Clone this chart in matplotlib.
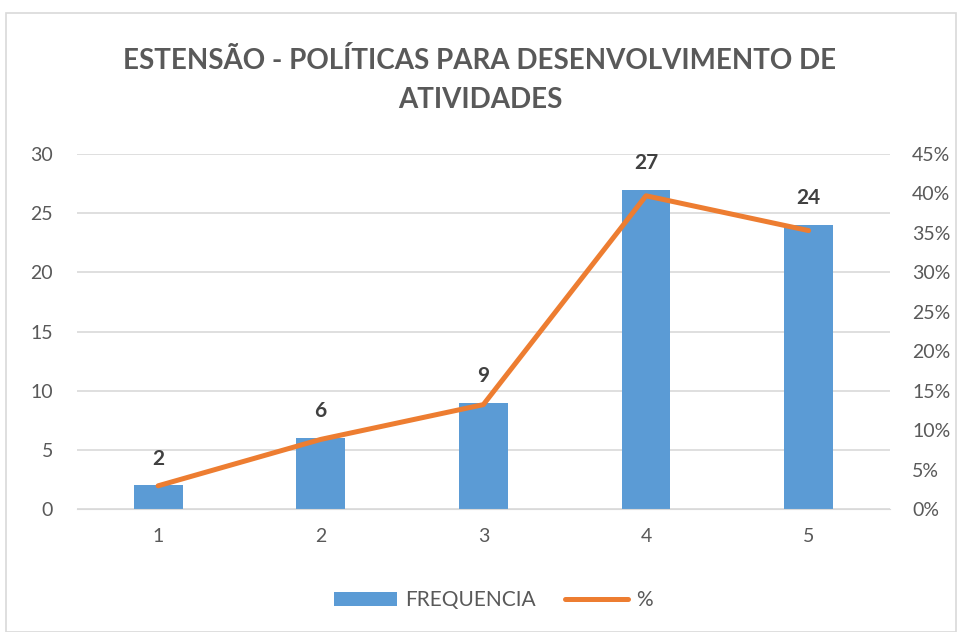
import matplotlib.pyplot as plt
from matplotlib.patches import Rectangle
from matplotlib.ticker import FuncFormatter

categorias = [1, 2, 3, 4, 5]
frequencia = [2, 6, 9, 27, 24]
total = sum(frequencia)
percentual = [f / total for f in frequencia]

azul = '#5B9BD5'
laranja = '#ED7D31'
cinza = '#595959'

plt.rcParams['font.family'] = ['Lato', 'DejaVu Sans']

fig = plt.figure(figsize=(9.6, 6.32), dpi=100)
fig.patches.append(Rectangle((0.006, 0.0), 0.99, 0.98, transform=fig.transFigure,
                             fill=False, edgecolor='#D9D9D9', linewidth=1.2))

ax = fig.add_axes([0.080, 0.1946, 0.847, 0.5617])
x = list(range(len(categorias)))
ax.bar(x, frequencia, width=0.3, color=azul, zorder=2, label='FREQUENCIA')
ax.set_ylim(0, 30)
ax.set_xlim(-0.5, len(categorias) - 0.5)
ax.set_yticks(range(0, 31, 5))
ax.set_xticks(x)
ax.set_xticklabels([str(c) for c in categorias])
ax.grid(axis='y', color='#D9D9D9', linewidth=1.2, zorder=0)
for s in ax.spines.values():
    s.set_visible(False)
ax.spines['bottom'].set_visible(True)
ax.spines['bottom'].set_color('#D9D9D9')
ax.tick_params(length=0, labelsize=14, colors=cinza, pad=14)
ax.tick_params(axis='y', pad=17)

for xi, f in zip(x, frequencia):
    ax.text(xi, f + 1.4, str(f), ha='center', va='bottom', fontsize=15,
            fontweight='bold', color='#404040')

ax2 = ax.twinx()
ax2.plot(x, percentual, color=laranja, linewidth=3.6, solid_capstyle='round',
         zorder=3, label='%')
ax2.set_ylim(0, 0.45)
ax2.set_yticks([i * 0.05 for i in range(10)])
ax2.yaxis.set_major_formatter(FuncFormatter(lambda v, p: f'{v * 100:.0f}%'))
for s in ax2.spines.values():
    s.set_visible(False)
ax2.tick_params(length=0, labelsize=14, colors=cinza, pad=16)

fig.text(0.5, 0.905, 'ESTENSÃO - POLÍTICAS PARA DESENVOLVIMENTO DE', ha='center',
         va='center', fontsize=20, fontweight='bold', color=cinza)
fig.text(0.5, 0.842, 'ATIVIDADES', ha='center', va='center', fontsize=20,
         fontweight='bold', color=cinza)

h1, l1 = ax.get_legend_handles_labels()
h2, l2 = ax2.get_legend_handles_labels()
fig.legend(h1 + h2, l1 + l2, loc='center', bbox_to_anchor=(0.514, 0.05), ncol=2,
           frameon=False, fontsize=15, labelcolor=cinza, handlelength=3.0,
           columnspacing=1.4, handletextpad=0.4)

fig.savefig('out.png', dpi=100, facecolor='white')
